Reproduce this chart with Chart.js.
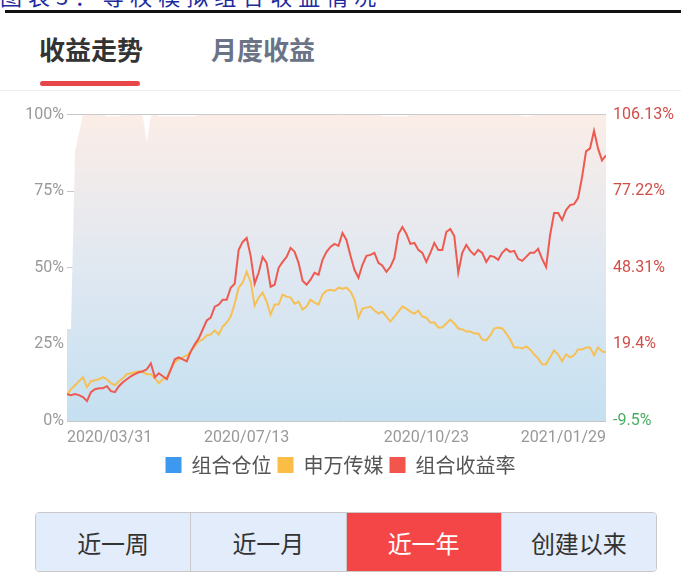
<!DOCTYPE html>
<html>
<head>
<meta charset="utf-8">
<script src="https://cdn.jsdelivr.net/npm/chart.js@4.4.1/dist/chart.umd.min.js"></script>
<style>
  html, body { margin: 0; padding: 0; background: #fff; }
  body { width: 681px; height: 583px; position: relative; overflow: hidden; font-family: "Noto Sans CJK SC", sans-serif; }
  .cap { position: absolute; left: 0; top: -21px; font-size: 22px; color: #1d2b9c; white-space: nowrap; letter-spacing: 6px; }
  .rule { position: absolute; left: 5px; top: 10px; width: 676px; height: 3px; background: #111; }
  .tab { position: absolute; top: 30px; font-size: 26px; font-weight: bold; }
  .tab.on { left: 39px; color: #333; }
  .tab.off { left: 211px; color: #6b7386; }
  .bar { position: absolute; left: 40px; top: 81px; width: 100px; height: 5px; border-radius: 3px; background: #e8474a; }
  .sep { position: absolute; left: 0; top: 90px; width: 681px; height: 1px; background: #eee; }
  #wrap { position: absolute; left: 0; top: 98px; width: 681px; height: 387px; }
  .seg { position: absolute; left: 35px; top: 512px; width: 620px; height: 58px; display: flex;
         border: 1px solid #c9c9c9; border-radius: 4px; overflow: hidden; }
  .seg div { flex: 1; display: flex; align-items: center; justify-content: center; background: #e3ecfa;
             font-size: 24px; color: #333; border-left: 1px solid #c9c9c9; }
  .seg div:first-child { border-left: none; }
  .seg div.sel { background: #f44646; color: #fff; }
</style>
</head>
<body>
<div class="cap">图表3：等权模拟组合收益情况</div>
<div class="rule"></div>
<div class="tab on">收益走势</div>
<div class="tab off">月度收益</div>
<div class="bar"></div>
<div class="sep"></div>
<div id="wrap"><canvas id="trendChart"></canvas></div>
<div class="seg">
  <div>近一周</div><div>近一月</div><div class="sel">近一年</div><div>创建以来</div>
</div>
<script>
const xTickLabels = ['2020/03/31', '2020/07/13', '2020/10/23', '2021/01/29'];
const xTickIndex = [0, 45, 90, 135];
const leftTicks = [0, 25, 50, 75, 100];
const rightTicks = [-9.5, 19.4, 48.31, 77.22, 106.13];
const seriesNames = ['组合仓位', '申万传媒', '组合收益率'];

// 组合仓位 (%)
const positionVals = [
  30, 30, 88, 94, 100, 100, 100, 100, 100, 100,
  99.5, 99.5, 99.5, 99.5, 100, 100, 100, 100, 100, 99.5,
  91, 99.5, 100, 99.5, 99.5, 99.5, 99.5, 99.5, 99.5, 99.5,
  99.5, 99.5, 99.5, 100, 100, 100, 100, 100, 100, 100,
  100, 100, 100, 100, 100, 100, 100, 100, 100, 100,
  100, 100, 100, 100, 100, 100, 100, 100, 100, 100,
  100, 100, 100, 100, 100, 100, 100, 100, 100, 100,
  100, 100, 100, 100, 100, 100, 100, 100, 100, 99.5,
  99.5, 99.5, 99.5, 99.5, 99.5, 99.5, 100, 100, 100, 100,
  100, 100, 100, 100, 100, 100, 100, 100, 100, 100,
  100, 100, 100, 100, 100, 100, 100, 100, 100, 100,
  100, 100, 100, 100, 99.5, 99.5, 99.5, 100, 100, 100,
  100, 100, 100, 100, 100, 100, 100, 100, 100, 100,
  100, 100, 100, 100, 100, 100
];

// 申万传媒 (%)
const mediaVals = [
  0.26, 2.51, 4.02, 5.52, 7.02, 3.26, 5.52, 5.89, 6.27, 7.02,
  6.27, 4.77, 4.02, 5.52, 6.64, 8.15, 8.52, 8.90, 9.27, 8.90,
  8.15, 8.15, 6.64, 4.77, 6.27, 7.02, 10.02, 12.65, 13.78, 14.53,
  15.28, 16.78, 18.66, 20.53, 21.28, 22.79, 23.16, 24.66, 23.16, 26.17,
  27.67, 29.92, 34.80, 40.81, 42.68, 46.81, 43.06, 34.05, 37.05, 38.93,
  35.55, 30.67, 34.42, 34.42, 38.18, 37.43, 37.05, 34.80, 35.55, 32.55,
  33.67, 36.30, 35.18, 34.42, 38.18, 39.68, 40.06, 39.68, 40.81, 40.43,
  40.81, 39.31, 36.30, 29.54, 32.92, 33.29, 33.67, 32.17, 31.05, 31.80,
  29.92, 28.04, 29.92, 31.80, 33.67, 32.92, 31.80, 31.05, 32.17, 29.92,
  29.54, 27.67, 27.67, 25.79, 25.79, 27.29, 28.79, 27.29, 25.41, 25.04,
  24.29, 24.29, 23.54, 23.54, 21.28, 20.91, 22.79, 25.41, 25.79, 25.41,
  23.54, 21.28, 18.28, 18.28, 17.91, 18.66, 17.53, 15.65, 14.15, 11.90,
  11.90, 14.53, 17.16, 15.65, 13.03, 15.65, 14.53, 15.28, 17.53, 17.53,
  18.28, 18.28, 15.28, 18.28, 16.78, 16.41
];

// 组合收益率 (%)
const returnVals = [
  0.64, 0.26, 0.64, 0.26, -0.49, -1.99, 1.39, 2.51, 2.89, 2.89,
  3.64, 1.76, 1.39, 3.64, 5.14, 6.27, 7.39, 8.15, 8.90, 9.27,
  10.02, 12.27, 7.02, 8.52, 7.39, 6.27, 10.02, 13.78, 14.53, 13.78,
  13.03, 16.78, 19.41, 21.66, 25.04, 28.42, 29.54, 33.67, 34.42, 36.30,
  36.30, 40.81, 42.31, 55.07, 58.08, 59.58, 52.82, 42.31, 46.44, 52.44,
  50.19, 41.18, 41.93, 48.32, 50.57, 52.44, 55.82, 54.32, 50.19, 43.43,
  41.93, 43.81, 46.44, 45.69, 51.32, 54.32, 56.20, 57.33, 56.57, 61.46,
  58.83, 52.82, 47.56, 44.56, 49.44, 52.82, 53.20, 53.95, 50.19, 49.07,
  46.81, 48.69, 52.07, 61.08, 63.71, 61.08, 57.33, 57.70, 55.07, 53.95,
  50.57, 53.95, 57.70, 55.07, 55.07, 61.83, 62.96, 60.33, 46.44, 53.95,
  56.95, 54.70, 53.20, 55.07, 53.95, 50.57, 52.82, 52.44, 51.32, 53.95,
  55.45, 54.32, 54.70, 51.69, 50.94, 52.44, 53.95, 53.95, 55.45, 51.69,
  48.60, 60.70, 68.96, 68.96, 66.34, 70.09, 71.97, 72.34, 74.59, 82.48,
  92.24, 93.37, 100.0, 93.37, 88.86, 90.74
];

const legendColors = ['#3d98f0', '#fbbd45', '#f2554c'];
const tickFont = { family: 'Roboto, "Noto Sans CJK SC", sans-serif', size: 16 };

function areaFill(context) {
    const chart = context.chart;
    const area = chart.chartArea;
    if (!area) return 'rgba(200,225,240,1)';
    const g = chart.ctx.createLinearGradient(0, area.bottom, 0, area.top);
    g.addColorStop(0, 'rgb(197,224,241)');
    g.addColorStop(0.5, 'rgb(224,232,241)');
    g.addColorStop(1, 'rgb(251,237,231)');
    return g;
}

const indexLabels = positionVals.map((v, i) => i);

const ctx = document.getElementById('trendChart').getContext('2d');
new Chart(ctx, {
    type: 'line',
    data: {
        labels: indexLabels,
        datasets: [
            {
                label: seriesNames[0],
                data: positionVals,
                yAxisID: 'y',
                fill: 'origin',
                backgroundColor: areaFill,
                borderWidth: 0,
                pointRadius: 0,
                order: 3
            },
            {
                label: seriesNames[1],
                data: mediaVals,
                yAxisID: 'y2',
                borderColor: '#f6c055',
                borderWidth: 2,
                pointRadius: 0,
                fill: false,
                order: 2
            },
            {
                label: seriesNames[2],
                data: returnVals,
                yAxisID: 'y2',
                borderColor: '#ee5a50',
                borderWidth: 2,
                pointRadius: 0,
                fill: false,
                order: 1
            }
        ]
    },
    options: {
        responsive: true,
        maintainAspectRatio: false,
        animation: false,
        layout: { padding: { top: 16, bottom: 0, left: 0, right: 0 } },
        scales: {
            x: {
                type: 'linear',
                min: 0,
                max: positionVals.length - 1,
                grid: { display: false, drawTicks: false },
                border: { display: false },
                afterBuildTicks: (axis) => { axis.ticks = xTickIndex.map(v => ({ value: v })); },
                afterFit: (axis) => { axis.height = 28; },
                ticks: {
                    autoSkip: false,
                    maxRotation: 0,
                    align: 'inner',
                    padding: 7,
                    color: '#999',
                    font: tickFont,
                    callback: (v) => xTickLabels[xTickIndex.indexOf(v)]
                }
            },
            y: {
                position: 'left',
                min: 0,
                max: 100,
                afterBuildTicks: (axis) => { axis.ticks = leftTicks.map(v => ({ value: v })); },
                afterFit: (axis) => { axis.width = 67; },
                grid: { color: '#c6c6c6', drawTicks: false },
                border: { display: false },
                ticks: {
                    padding: 3,
                    color: '#999',
                    font: tickFont,
                    callback: (v) => v + '%'
                }
            },
            y2: {
                position: 'right',
                min: rightTicks[0],
                max: rightTicks[rightTicks.length - 1],
                afterBuildTicks: (axis) => { axis.ticks = rightTicks.map(v => ({ value: v })); },
                afterFit: (axis) => { axis.width = 75; },
                grid: { display: false, drawTicks: false },
                border: { display: false },
                ticks: {
                    padding: 7,
                    font: tickFont,
                    color: (c) => (c.tick && c.tick.value < 0 ? '#48ad62' : '#cf4e47'),
                    callback: (v) => v + '%'
                }
            }
        },
        plugins: {
            legend: {
                position: 'bottom',
                labels: {
                    boxWidth: 16,
                    boxHeight: 16,
                    padding: 6,
                    color: '#555',
                    font: { family: '"Noto Sans CJK SC", sans-serif', size: 20 },
                    sort: (a, b) => a.datasetIndex - b.datasetIndex,
                    generateLabels: (chart) => {
                        const items = Chart.defaults.plugins.legend.labels.generateLabels(chart);
                        items.forEach(it => {
                            it.fillStyle = legendColors[it.datasetIndex];
                            it.strokeStyle = legendColors[it.datasetIndex];
                            it.lineWidth = 0;
                        });
                        return items;
                    }
                }
            },
            tooltip: { enabled: false }
        }
    }
});
</script>
</body>
</html>
